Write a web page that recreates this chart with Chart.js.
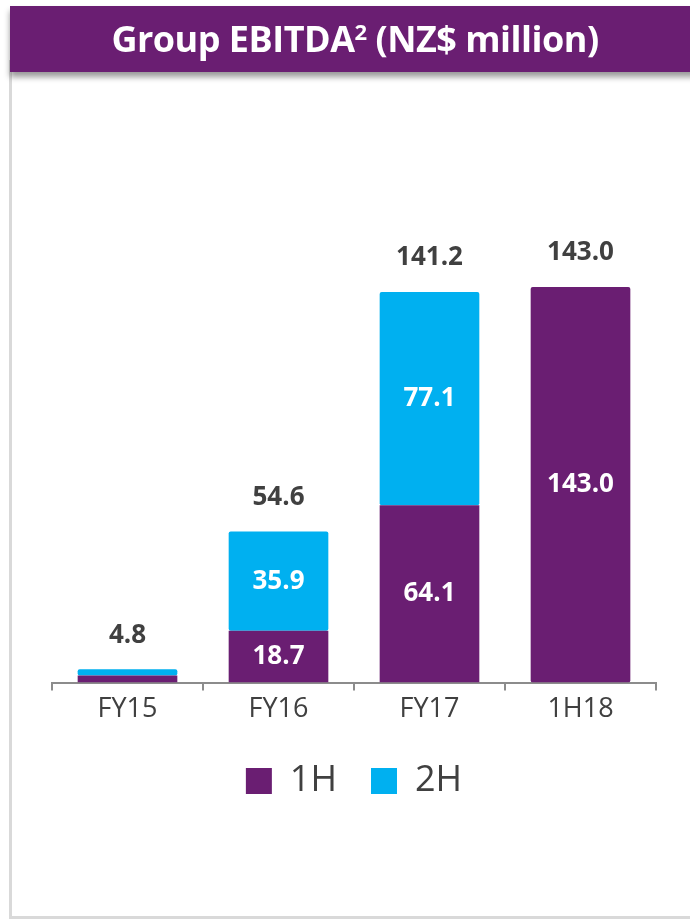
<!DOCTYPE html>
<html>
<head>
<meta charset="utf-8">
<script src="https://cdn.jsdelivr.net/npm/chart.js@4"></script>
<style>
  body { margin: 0; background: #fff; }
  #page { position: relative; width: 690px; height: 920px; overflow: hidden; font-family: "Open Sans", sans-serif; }
  #frame { position: absolute; left: 9px; top: 60px; width: 720px; height: 856px; border-left: 3px solid #d9d9d9; border-bottom: 3px solid #d9d9d9; }
  #title { position: absolute; left: 10px; top: 6px; width: 700px; height: 66px; background: #6a1e72; color: #fff;
           font-weight: 700; font-size: 36px; line-height: 66px; text-align: center; padding-right: 10px; box-sizing: border-box;
           box-shadow: 0 5px 6px rgba(0,0,0,0.4); letter-spacing: -0.5px; }
  #title sup { font-size: 22px; vertical-align: 12px; line-height: 0; }
  #wrap { position: absolute; left: 0; top: 0; width: 690px; height: 920px; }
</style>
</head>
<body>
<div id="page">
  <div id="frame"></div>
  <div id="wrap"><canvas id="myChart"></canvas></div>
  <div id="title">Group EBITDA<sup>2</sup> (NZ$ million)</div>
</div>
<script>
var categories = ['FY15', 'FY16', 'FY17', '1H18'];
var firstHalf = [2.6, 18.7, 64.1, 143.0];
var secondHalf = [2.2, 35.9, 77.1, null];

var purple = '#6a1e72';
var blue = '#00b0f0';

var valueLabels = {
    id: 'valueLabels',
    afterDatasetsDraw: function(chart) {
        var ctx = chart.ctx;
        ctx.save();
        ctx.textAlign = 'center';
        ctx.textBaseline = 'middle';
        ctx.font = 'bold 26px "Open Sans"';
        chart.data.datasets.forEach(function(ds, i) {
            chart.getDatasetMeta(i).data.forEach(function(bar, j) {
                var v = ds.data[j];
                if (v == null || v < 10) return;
                ctx.fillStyle = '#fff';
                ctx.fillText(v.toFixed(1), bar.x, (bar.y + bar.base) / 2);
            });
        });
        categories.forEach(function(c, j) {
            var total = (firstHalf[j] || 0) + (secondHalf[j] || 0);
            var x = chart.getDatasetMeta(0).data[j].x;
            var y = chart.scales.y.getPixelForValue(total);
            ctx.fillStyle = '#404040';
            ctx.fillText(total.toFixed(1), x, y - 34);
        });
        ctx.restore();
    }
};

var myChart = new Chart(document.getElementById('myChart'), {
    type: 'bar',
    data: {
        labels: categories,
        datasets: [
            { label: '1H', data: firstHalf, backgroundColor: purple, borderRadius: 2, borderSkipped: false },
            { label: '2H', data: secondHalf, backgroundColor: blue, borderRadius: 2, borderSkipped: false }
        ]
    },
    options: {
        responsive: true,
        maintainAspectRatio: false,
        animation: false,
        datasets: { bar: { categoryPercentage: 1, barPercentage: 0.66 } },
        layout: { padding: { top: 240, left: 52, right: 34, bottom: 111 } },
        scales: {
            y: { display: false, stacked: true, min: 0, max: 160 },
            x: {
                stacked: true,
                grid: { drawOnChartArea: false, drawTicks: true, tickLength: 8, color: '#8c8c8c', lineWidth: 2 },
                border: { color: '#8c8c8c', width: 2 },
                ticks: { color: '#404040', font: { family: 'Open Sans', size: 27 }, padding: 3 }
            }
        },
        plugins: {
            tooltip: { enabled: false },
            legend: {
                position: 'bottom',
                labels: {
                    boxWidth: 26, boxHeight: 26, padding: 34, color: '#404040',
                    font: { family: 'Open Sans', size: 36 }
                }
            }
        }
    },
    plugins: [valueLabels]
});
</script>
</body>
</html>
